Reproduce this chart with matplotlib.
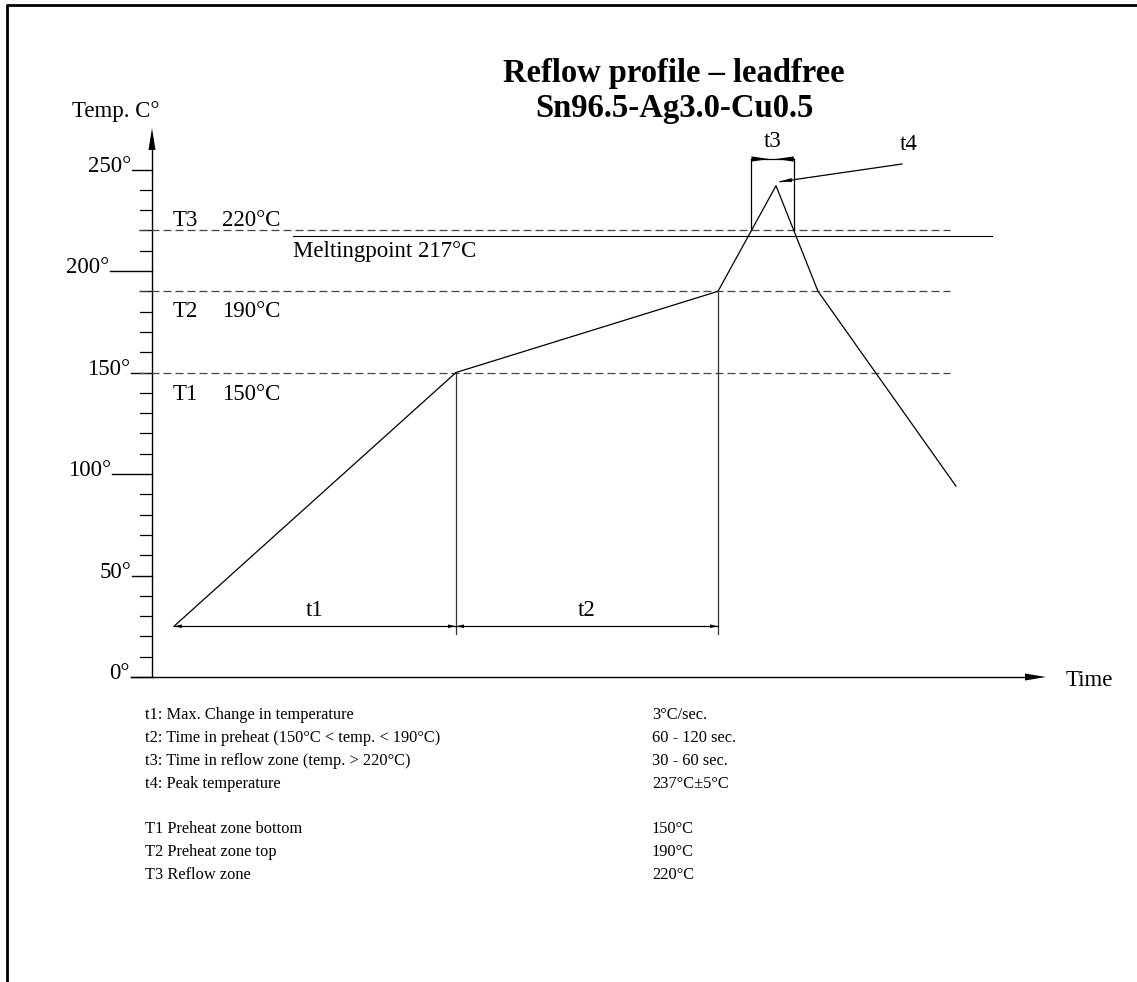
import numpy as np
import matplotlib
matplotlib.use("Agg")
import matplotlib.pyplot as plt

plt.rcParams['font.family'] = ['Liberation Serif', 'DejaVu Serif']

# profile (time in arbitrary sec-like units, temp in degC)
profile_time = [11, 152, 283, 312, 333, 402]
profile_temp = [25, 150, 190, 242, 190, 94]

zone_names = ["T1", "T2", "T3"]
zone_temps = [150, 190, 220]
melt_temp = 217

y_ticks = [0, 50, 100, 150, 200, 250]
y_minor = [t for t in range(10, 250, 10) if t % 50]

title_lines = ["Reflow profile \u2013 leadfree", "Sn96.5-Ag3.0-Cu0.5"]
spec_left = ["t1: Max. Change in temperature",
             "t2: Time in preheat (150\u00b0C < temp. < 190\u00b0C)",
             "t3: Time in reflow zone (temp. > 220\u00b0C)",
             "t4: Peak temperature"]
spec_right = ["3\u00b0C/sec.", "60 - 120 sec.", "30 - 60 sec.", "237\u00b0C\u00b15\u00b0C"]
zone_left = ["T1 Preheat zone bottom", "T2 Preheat zone top", "T3 Reflow zone"]
zone_right = ["150\u00b0C", "190\u00b0C", "220\u00b0C"]

# drawing scale: pixels per unit, origin pixel
PX_T, PX_C = 2.0, 2.03
X0, Y0 = 152, 677
W, H = 1137, 982
FS = 16.5


def px(x, y):
    return (x - X0) / PX_T, (Y0 - y) / PX_C


def head(ax, tip, d, length, half, wide_tip=False):
    # filled arrow head, sizes in pixels, d = direction (pixel space, y up)
    d = np.array(d, float)
    d /= np.hypot(*d)
    tp = np.array([tip[0] * PX_T, tip[1] * PX_C])
    back = tp - d * length
    perp = np.array([-d[1], d[0]]) * half
    if wide_tip:
        v = [tp + perp, tp - perp, back]
    else:
        v = [tp, back + perp, back - perp]
    v = np.array(v)
    ax.fill(v[:, 0] / PX_T, v[:, 1] / PX_C, color="black", lw=0)


fig = plt.figure(figsize=(W / 100, H / 100), dpi=100)
ax = fig.add_axes([0, 0, 1, 1])
ax.set_xlim(px(0, 0)[0], px(W, 0)[0])
ax.set_ylim(px(0, H)[1], px(0, 0)[1])
ax.axis("off")

# frame (top and left only)
bx, by = px(7, H)
tx, ty = px(W, 5)
ax.plot([bx, bx, tx], [by, ty, ty], color="black", lw=2, solid_capstyle="butt")

# axes
xa0 = px(131, 0)[0]
xa1 = px(1046, 0)[0]
ax.plot([xa0, xa1 - 10], [0, 0], color="black", lw=1.0)
head(ax, (xa1, 0), (1, 0), 21, 3.5)
ya1 = px(0, 128)[1]
ax.plot([0, 0], [0, ya1 - 10], color="black", lw=1.0)
head(ax, (0, ya1), (0, 1), 22, 3.5)

for t in y_minor:
    ax.plot([px(140, 0)[0], 0], [t, t], color="black", lw=0.9)
tick_start = [131, 132, 112, 131, 110, 132]
for t, xs in zip(y_ticks, tick_start):
    ax.plot([px(xs, 0)[0], 0], [t, t], color="black", lw=1.0)
    ax.text(px(xs - 1, 0)[0], t - 1, f"{t}\u00b0", ha="right", va="baseline",
            fontsize=FS)

ax.text(*px(116, 112), "Temp. C\u00b0", ha="center", va="center", fontsize=FS)
ax.text(*px(1066, 681), "Time", ha="left", va="center", fontsize=FS)

# zone lines
dx0, dx1 = px(139, 0)[0], px(950, 0)[0]
for T in zone_temps:
    ax.plot([dx0, dx1], [T, T], color="#444444", lw=0.9, ls=(0, (6.4, 3.2)))
ax.plot([px(293, 0)[0], px(992, 0)[0]], [melt_temp, melt_temp], color="black", lw=0.8)
ax.text(px(293, 0)[0], melt_temp - 10, f"Meltingpoint {melt_temp}\u00b0C",
        ha="left", va="baseline", fontsize=FS)

label_base = [400, 317, 226]
for name, T, yb in zip(zone_names, zone_temps, label_base):
    yb_T = px(0, yb)[1]
    ax.text(px(173, 0)[0], yb_T, name, ha="left", va="baseline", fontsize=FS)
    ax.text(px(222, 0)[0], yb_T, f"{T}\u00b0C", ha="left", va="baseline", fontsize=FS)

# profile
ax.plot(profile_time, profile_temp, color="black", lw=0.9)

# t1 / t2 dimension lines
t_start, t_pre, t_top = profile_time[0], profile_time[1], profile_time[2]
dim_T = profile_temp[0]
low_T = px(0, 634)[1]
for tt, TT in [(t_pre, profile_temp[1]), (t_top, profile_temp[2])]:
    ax.plot([tt, tt], [TT, low_T], color="#333333", lw=0.9)
ax.plot([t_start, t_top], [dim_T, dim_T], color="black", lw=0.9)
for a, b in [(t_start, t_pre), (t_pre, t_top)]:
    head(ax, (a, dim_T), (-1, 0), 8, 1.8)
    head(ax, (b, dim_T), (1, 0), 8, 1.8)
ax.text((t_start + t_pre) / 2, dim_T + 5, "t1", ha="center", va="baseline", fontsize=FS)
ax.text((t_pre + t_top) / 2, dim_T + 5, "t2", ha="center", va="baseline", fontsize=FS)

# t3: time above reflow zone
T3 = zone_temps[2]
i_pk = int(np.argmax(profile_temp))
t_in = np.interp(T3, profile_temp[i_pk - 1:i_pk + 1], profile_time[i_pk - 1:i_pk + 1])
t_out = np.interp(T3, profile_temp[i_pk:i_pk + 2][::-1], profile_time[i_pk:i_pk + 2][::-1])
t3_T = px(0, 159)[1]
for tt in (t_in, t_out):
    ax.plot([tt, tt], [T3, t3_T], color="black", lw=0.9)
ax.plot([t_in, t_out], [t3_T, t3_T], color="black", lw=0.9)
head(ax, (t_in, t3_T), (-1, 0), 18, 2.6, wide_tip=True)
head(ax, (t_out, t3_T), (1, 0), 18, 2.6, wide_tip=True)
ax.text((t_in + t_out) / 2, t3_T + 6, "t3", ha="center", va="baseline", fontsize=FS)

# t4: peak leader
pk_t, pk_T = profile_time[i_pk] + 2, profile_temp[i_pk] + 2
lx, ly = px(902, 164)
ax.plot([lx, pk_t], [ly, pk_T], color="black", lw=0.9)
head(ax, (pk_t, pk_T), ((pk_t - lx) * PX_T, (pk_T - ly) * PX_C), 12, 2.0)
ax.text(*px(909, 145), "t4", ha="center", va="center", fontsize=FS)

# title
ax.text(*px(674, 82), title_lines[0], ha="center", va="baseline", fontsize=23.5,
        fontweight="bold")
ax.text(*px(674, 117), title_lines[1], ha="center", va="baseline", fontsize=23.5,
        fontweight="bold")

# spec table
rows = [(spec_left, spec_right, 715), (zone_left, zone_right, 829)]
for left, right, y_first in rows:
    for k, (a, b) in enumerate(zip(left, right)):
        yy = px(0, y_first + 23 * k)[1]
        ax.text(px(145, 0)[0], yy, a, ha="left", va="center", fontsize=11.8)
        ax.text(px(652, 0)[0], yy, b, ha="left", va="center", fontsize=11.8)

fig.savefig("out.png", dpi=100)
